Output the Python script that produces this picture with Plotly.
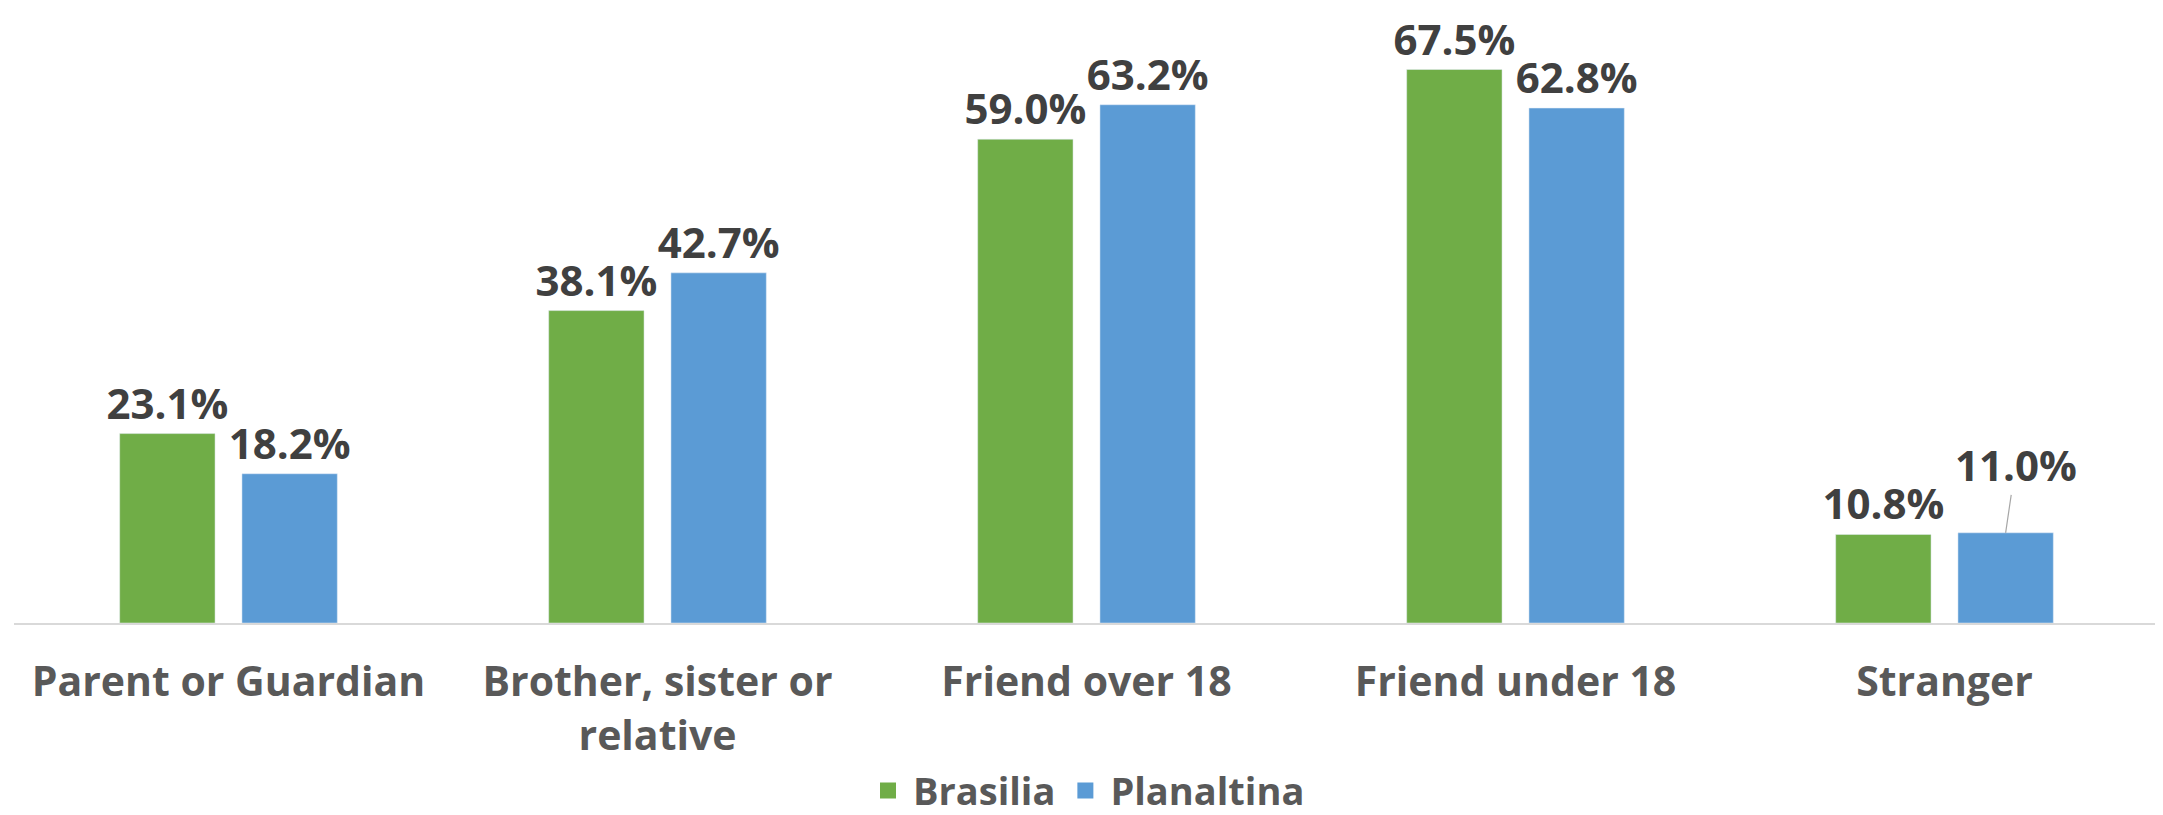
import plotly.graph_objects as go

categories = ["Parent or Guardian", "Brother, sister or<br>relative", "Friend over 18",
              "Friend under 18", "Stranger"]
brasilia = [23.1, 38.1, 59.0, 67.5, 10.8]
planaltina = [18.2, 42.7, 63.2, 62.8, 11.0]

GREEN = "#70AD47"
BLUE = "#5B9BD5"
FONT = "Open Sans"
BARGAP = 0.43
label_font = dict(family=FONT, size=42, color="#404040", weight="bold")

# the last Planaltina label sits off the bar with a leader line
plan_text = [f"{v:.1f}%" for v in planaltina]
plan_text[-1] = ""

fig = go.Figure()
fig.add_trace(go.Bar(name="Brasilia", x=categories, y=brasilia, marker_color=GREEN,
                     text=[f"{v:.1f}%" for v in brasilia], textposition="outside",
                     textfont=label_font, constraintext="none", cliponaxis=False,
                     showlegend=False))
fig.add_trace(go.Bar(name="Planaltina", x=categories, y=planaltina, marker_color=BLUE,
                     text=plan_text, textposition="outside",
                     textfont=label_font, constraintext="none", cliponaxis=False,
                     showlegend=False))

# legend entries with bigger square swatches
for name, col in [("Brasilia", GREEN), ("Planaltina", BLUE)]:
    fig.add_trace(go.Scatter(x=[None], y=[None], mode="markers", name=name,
                             marker=dict(symbol="square", size=21, color=col)))

offset = (1 - BARGAP) / 4
fig.add_annotation(x=len(categories) - 1 + offset, y=planaltina[-1], xref="x", yref="y",
                   text=f"{planaltina[-1]:.1f}%", showarrow=True, arrowhead=0,
                   arrowwidth=1.2, arrowcolor="#a6a6a6", ax=10, ay=-68, standoff=0,
                   font=label_font)

fig.update_layout(
    width=2163, height=815,
    margin=dict(l=6, r=12, t=0, b=189),
    plot_bgcolor="white", paper_bgcolor="white",
    barmode="group", bargap=BARGAP, bargroupgap=0.22,
    legend=dict(orientation="h", x=0.5, xanchor="center", y=-0.273, yanchor="middle",
                font=dict(family=FONT, size=38, color="#595959", weight="bold"),
                itemwidth=40),
    showlegend=True,
)
fig.update_xaxes(showline=True, linecolor="#d9d9d9", linewidth=2,
                 ticks="outside", ticklen=22, tickcolor="rgba(0,0,0,0)",
                 tickfont=dict(family=FONT, size=41, color="#595959", weight="bold"))
fig.update_yaxes(range=[0, 75], visible=False, showgrid=False)

fig.write_html("out.html")
